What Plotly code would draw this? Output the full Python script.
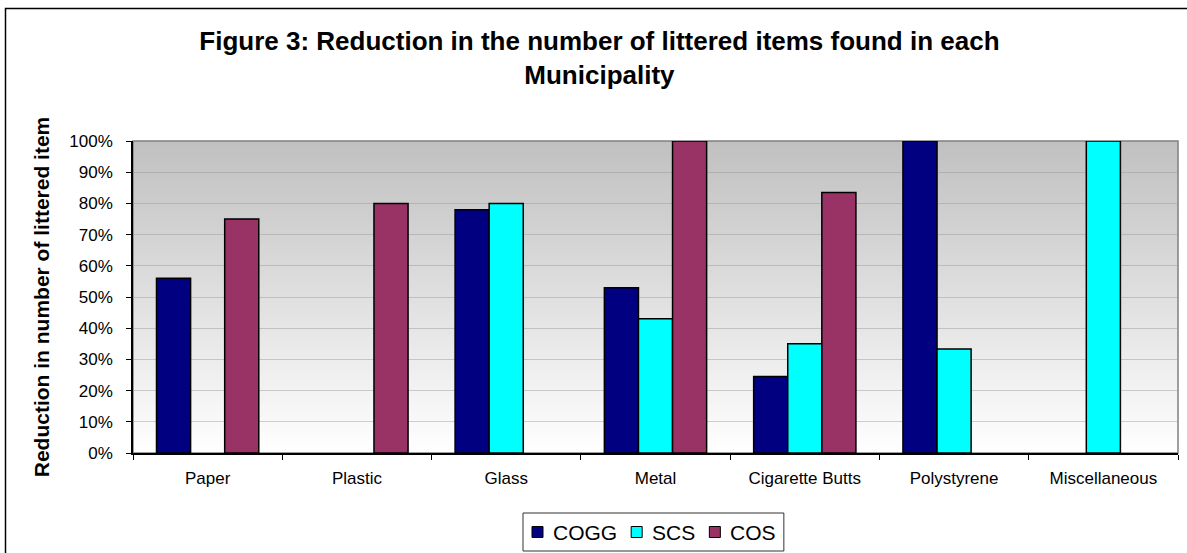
import plotly.graph_objects as go

# Litter categories and the reduction recorded for each municipality
categories = ["Paper", "Plastic", "Glass", "Metal", "Cigarette Butts", "Polystyrene", "Miscellaneous"]
cogg = [0.56, None, 0.78, 0.53, 0.245, 1.00, None]
scs = [None, None, 0.80, 0.43, 0.35, 0.333, 1.00]
cos = [0.75, 0.80, None, 1.00, 0.835, None, None]

series = [
    ("COGG", cogg, "#000080"),
    ("SCS", scs, "#00FFFF"),
    ("COS", cos, "#993366"),
]

W, H = 1187, 553
L, R, T, B = 133, 9, 141, 100
plot_w = W - L - R
plot_h = H - T - B

FONT = "Liberation Sans, Arial, sans-serif"

fig = go.Figure()
for name, vals, color in series:
    fig.add_trace(go.Bar(
        name=name,
        x=categories,
        y=vals,
        marker=dict(color=color, line=dict(color="#000000", width=1.5)),
        showlegend=False,
    ))


def px_to_paper_x(px):
    return (px - L) / plot_w


def px_to_paper_y(py):
    return (H - B - py) / plot_h


shapes = []
annotations = []

# Grey-to-white vertical gradient behind the bars, built from thin strips
n_strips = 104
for i in range(n_strips):
    y0 = i / n_strips
    y1 = min(1.0, (i + 1) / n_strips + 0.004)
    frac = (i + 0.5) / n_strips  # 0 at bottom, 1 at top
    g = round(255 - (255 - 192) * frac)
    shapes.append(dict(
        type="rect", xref="paper", yref="paper", layer="below",
        x0=0, x1=1, y0=y0, y1=y1,
        fillcolor=f"rgb({g},{g},{g})", line=dict(width=0),
    ))

# Plot-area border (top and right in grey)
shapes.append(dict(
    type="rect", xref="paper", yref="paper", layer="below",
    x0=0, x1=1, y0=0, y1=1,
    line=dict(color="#808080", width=1.5), fillcolor="rgba(0,0,0,0)",
))

# Outer chart frame, running past the right and bottom edges of the page
shapes.append(dict(
    type="rect", xref="paper", yref="paper", layer="above",
    x0=px_to_paper_x(5.5), x1=px_to_paper_x(1200),
    y0=px_to_paper_y(570), y1=px_to_paper_y(8.5),
    line=dict(color="#000000", width=1.5), fillcolor="rgba(0,0,0,0)",
))

# Boxed legend below the plot: swatch + series name for each trace
LEG_FONT = 21
LEG_LEFT, LEG_TOP, LEG_BOTTOM = 523, 513, 551
SWATCH = 11
PAD, SW_GAP, ITEM_GAP = 9, 9, 15
# Arial/Liberation Sans advance widths (em) for the legend characters
char_em = {"C": 0.722, "O": 0.778, "G": 0.778, "S": 0.667}
mid = (LEG_TOP + LEG_BOTTOM) / 2

x = LEG_LEFT + PAD
legend_items = []
for name, _, color in series:
    tx = x + SWATCH + SW_GAP
    w = sum(char_em.get(c, 0.6) for c in name) * LEG_FONT
    legend_items.append((x, tx, name, color))
    last_end = tx + w
    x = last_end + ITEM_GAP
leg_right = last_end + PAD

shapes.append(dict(
    type="rect", xref="paper", yref="paper", layer="above",
    x0=px_to_paper_x(LEG_LEFT), x1=px_to_paper_x(leg_right),
    y0=px_to_paper_y(LEG_BOTTOM), y1=px_to_paper_y(LEG_TOP),
    line=dict(color="#333333", width=1), fillcolor="#ffffff",
))
for sx, tx, name, color in legend_items:
    shapes.append(dict(
        type="rect", xref="paper", yref="paper", layer="above",
        x0=px_to_paper_x(sx), x1=px_to_paper_x(sx + SWATCH),
        y0=px_to_paper_y(mid + SWATCH / 2), y1=px_to_paper_y(mid - SWATCH / 2),
        line=dict(color="#000000", width=1), fillcolor=color,
    ))
    annotations.append(dict(
        text=name, showarrow=False,
        xref="paper", yref="paper",
        x=px_to_paper_x(tx), y=px_to_paper_y(mid),
        xanchor="left", yanchor="middle",
        borderpad=0,
        font=dict(family=FONT, size=LEG_FONT, color="#000000"),
    ))

fig.update_layout(
    width=W, height=H,
    margin=dict(l=L, r=R, t=T, b=B, pad=0),
    paper_bgcolor="#ffffff",
    plot_bgcolor="rgba(0,0,0,0)",
    barmode="group",
    bargap=0.315,
    bargroupgap=0,
    font=dict(family=FONT, color="#000000", size=17),
    title=dict(
        text="<b>Figure 3: Reduction in the number of littered items found in each<br>Municipality</b>",
        font=dict(family=FONT, size=26, color="#000000"),
        x=0.505, xanchor="center", xref="container",
        y=0.9096, yanchor="top", yref="container",
    ),
    shapes=shapes,
    annotations=annotations,
    showlegend=False,
)

fig.update_xaxes(
    type="category",
    showline=True, linecolor="#000000", linewidth=1.5,
    ticks="outside", ticklen=5, tickwidth=1, tickcolor="#000000",
    tickson="boundaries",
    showgrid=False,
    tickfont=dict(family=FONT, size=17, color="#000000"),
    ticklabelstandoff=9,
)

fig.update_yaxes(
    range=[0, 1],
    dtick=0.1, tick0=0,
    tickformat=".0%",
    showline=True, linecolor="#000000", linewidth=1.5,
    ticks="outside", ticklen=5, tickwidth=1, tickcolor="#000000",
    showgrid=True, gridcolor="rgba(150,150,150,0.45)", gridwidth=1,
    zeroline=False,
    tickfont=dict(family=FONT, size=17, color="#000000"),
    ticklabelstandoff=10,
    title=dict(
        text="<b>Reduction in number of littered item</b>",
        font=dict(family=FONT, size=21, color="#000000"),
        standoff=14,
    ),
)

fig.write_html("out.html")
